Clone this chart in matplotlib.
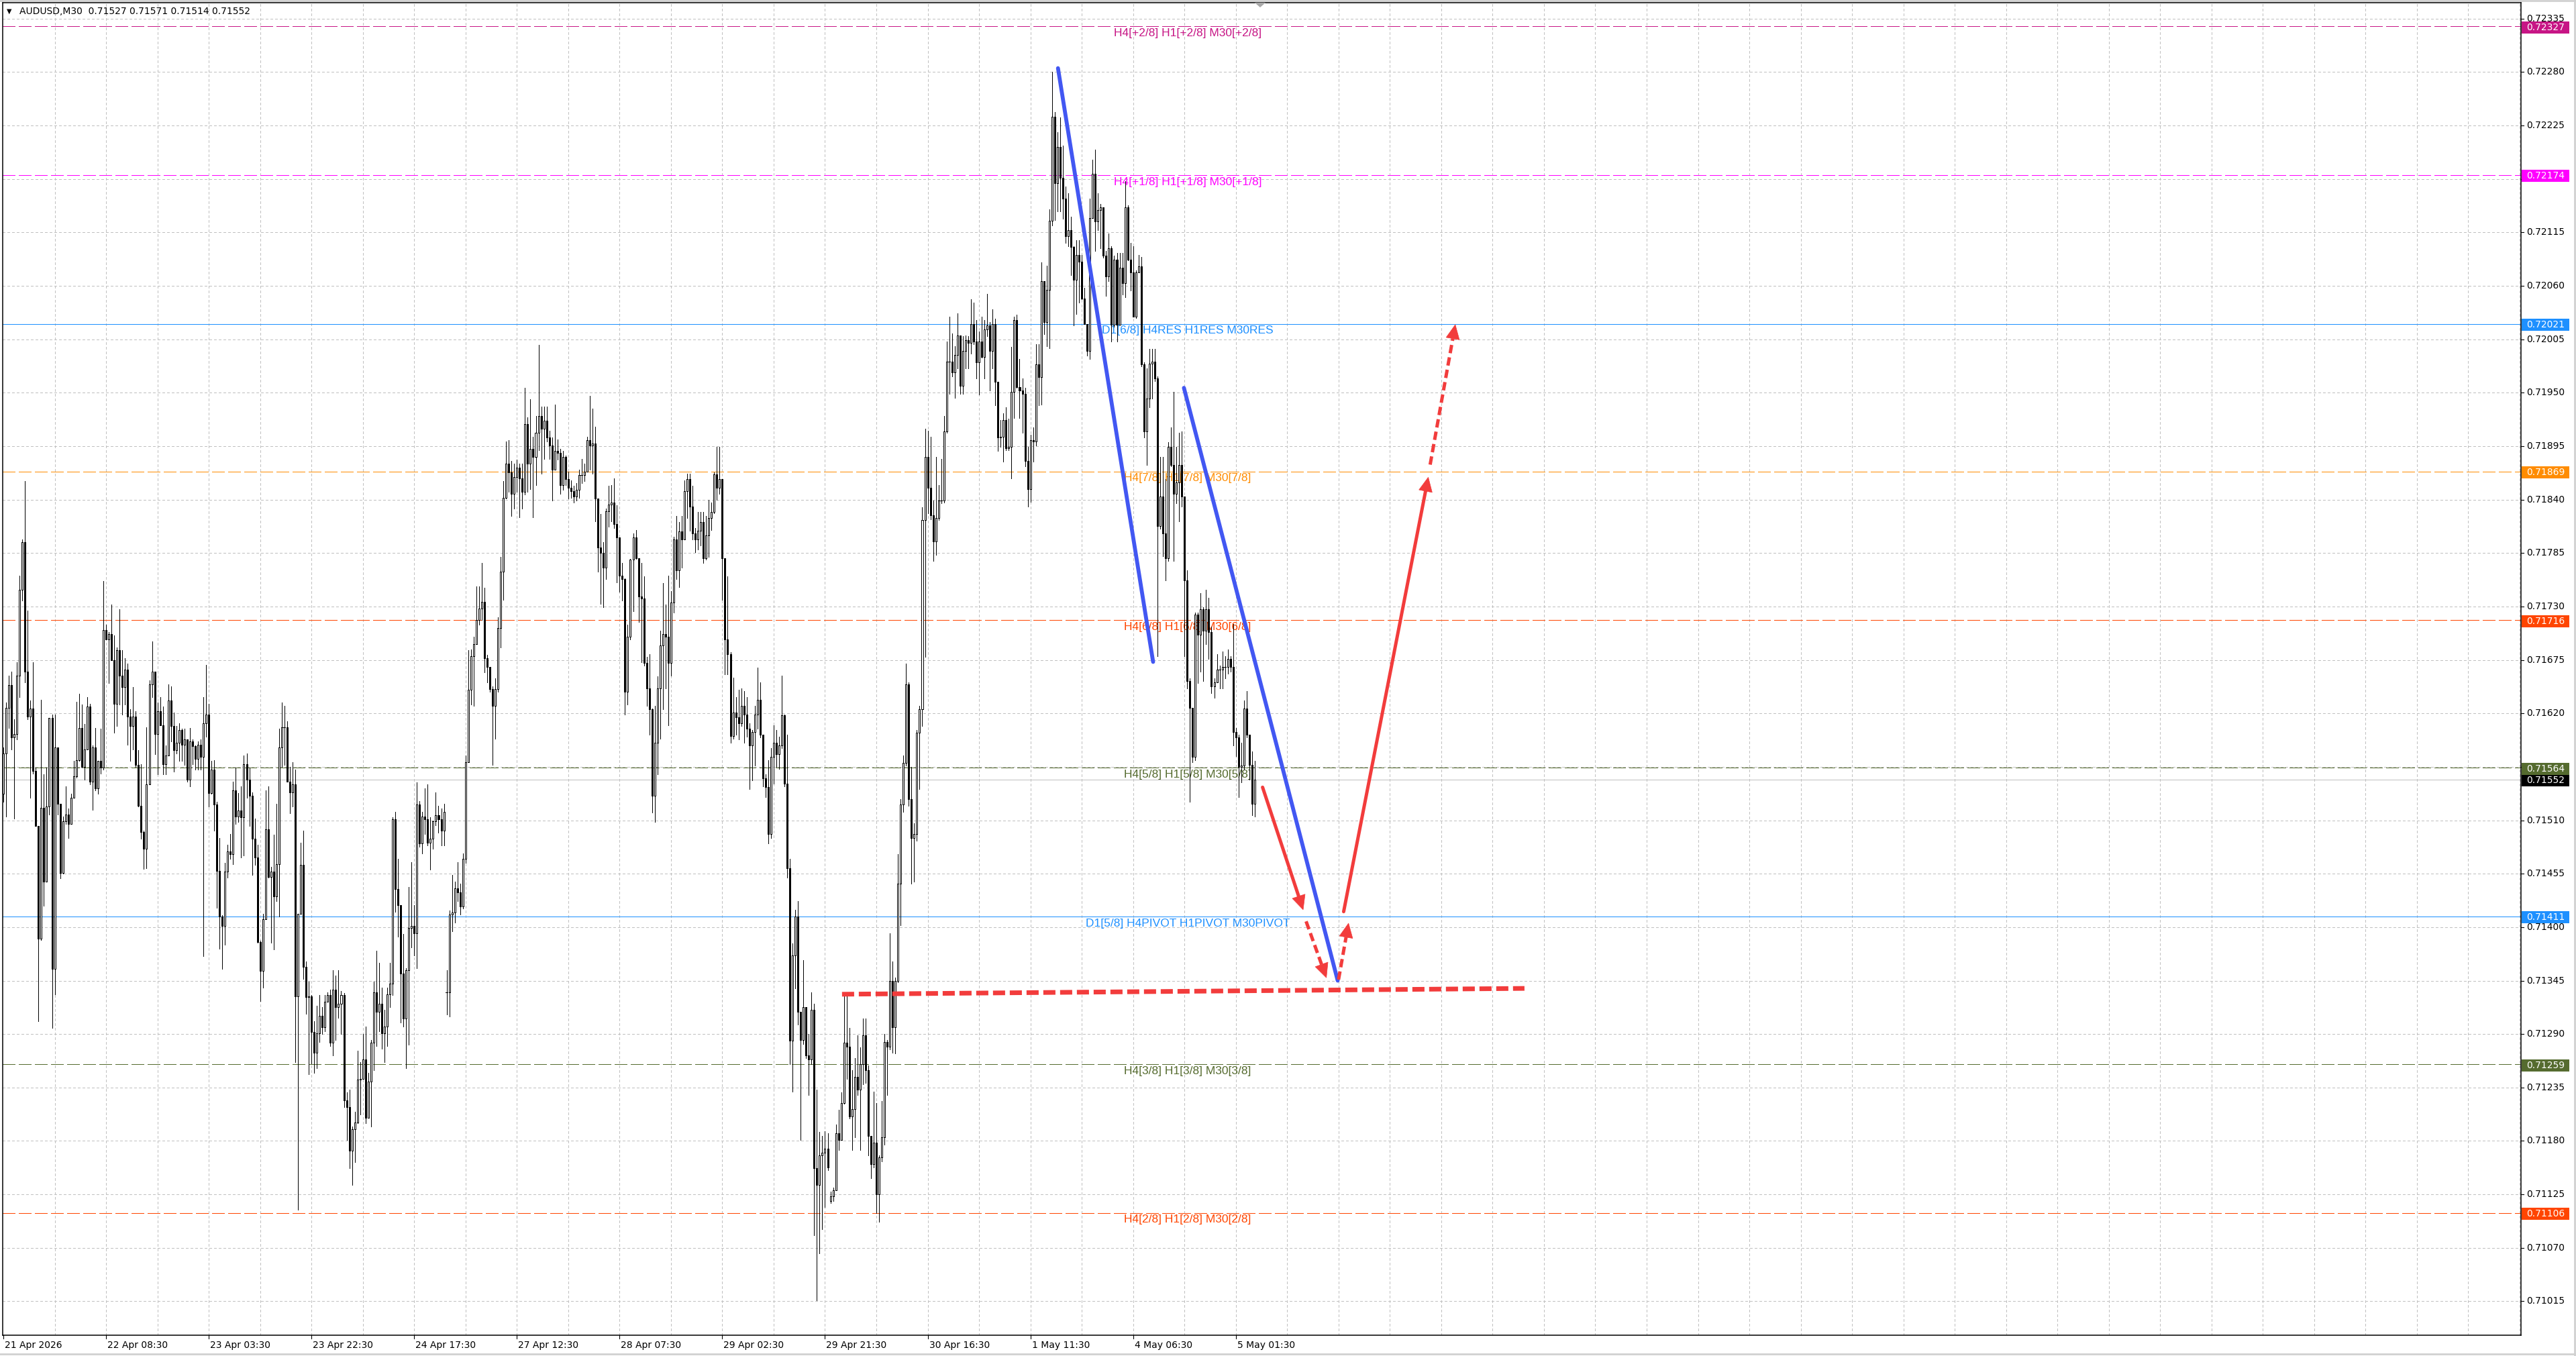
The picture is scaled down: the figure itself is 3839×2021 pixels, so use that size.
import numpy as np
import matplotlib
matplotlib.use("Agg")
import matplotlib.pyplot as plt
from matplotlib.patches import Rectangle, Polygon
from matplotlib.lines import Line2D
from matplotlib.transforms import blended_transform_factory, offset_copy

plt.rcParams['font.family'] = ['DejaVu Sans']
plt.rcParams['lines.scale_dashes'] = False

# AUDUSD M30, prices in points above 0.70000 (1 point = 0.00001)
close_pts = [
    1579, 1626, 1649, 1595, 1599, 1659, 1747, 1796, 1663, 1617,
    1625, 1561, 1504, 1388, 1523, 1447, 1524, 1615, 1357, 1585,
    1527, 1456, 1509, 1516, 1506, 1533, 1555, 1572, 1605, 1565,
    1583, 1627, 1550, 1585, 1543, 1571, 1564, 1706, 1696, 1702,
    1675, 1630, 1685, 1659, 1647, 1665, 1617, 1607, 1617, 1567,
    1525, 1498, 1481, 1547, 1650, 1663, 1599, 1622, 1608, 1568,
    1577, 1633, 1607, 1582, 1590, 1603, 1588,
    1593, 1552, 1591, 1586, 1573, 1588, 1575, 1610, 1619, 1538, 1562,
    1526, 1458, 1411, 1401, 1457, 1478, 1475, 1541, 1514, 1520,
    1513, 1568, 1552, 1535, 1491, 1472, 1385, 1355, 1408, 1501,
    1452, 1457, 1432, 1465, 1585, 1606, 1606, 1550, 1539, 1547,
    1329, 1414, 1464, 1359, 1328, 1329, 1292, 1271, 1291, 1309,
    1297, 1323, 1330, 1281, 1336, 1318, 1321, 1330, 1222, 1215,
    1170, 1192, 1199, 1243, 1244, 1264, 1204, 1241, 1281, 1333,
    1313, 1321, 1291, 1298, 1331, 1342, 1511, 1439, 1423, 1352,
    1306, 1356, 1399, 1401, 1394, 1526, 1486, 1514, 1511, 1487,
    1491, 1509, 1515, 1511, 1499, 1519, 1333, 1413, 1415, 1440,
    1436, 1421, 1470, 1570, 1644, 1679, 1691, 1716, 1728, 1735,
    1677, 1668, 1645, 1628, 1645, 1708, 1766, 1842, 1877, 1868,
    1846, 1863, 1873, 1862, 1848, 1918, 1877, 1892, 1884, 1909,
    1926, 1913, 1921, 1904, 1896, 1871, 1890, 1888, 1855, 1884,
    1861, 1852, 1849, 1843, 1850, 1865, 1865, 1869, 1901, 1896,
    1898, 1841, 1791, 1785, 1770, 1828, 1835, 1837, 1815, 1801,
    1762, 1758, 1642, 1699, 1778, 1801, 1780, 1740, 1738, 1672,
    1646, 1624, 1535, 1590, 1646, 1690, 1702, 1699, 1672, 1734,
    1799, 1767, 1807, 1799, 1849, 1861, 1833, 1805, 1799, 1808,
    1817, 1780, 1803, 1821,
    1827, 1866, 1852, 1861, 1780, 1696, 1681, 1597, 1621, 1616,
    1610, 1628, 1619, 1604, 1587, 1601, 1619, 1634, 1598, 1553,
    1544, 1496, 1575, 1590, 1578, 1587, 1618, 1548, 1461, 1283,
    1371, 1411, 1313, 1284, 1318, 1268, 1264, 1315, 1152, 1135,
    1165, 1168, 1172, 1153, 1123, 1129, 1188, 1181, 1219, 1281,
    1277, 1205, 1213, 1246, 1233, 1259, 1289, 1253, 1185, 1156,
    1178, 1125, 1163, 1184, 1282, 1277, 1345, 1297, 1345, 1445,
    1526, 1569, 1650, 1532, 1492, 1496, 1600, 1624, 1819, 1884,
    1852, 1824, 1797, 1821, 1839, 1839, 1910, 1982, 1982, 1971,
    1989, 2009, 1957, 1993, 2004, 2001, 2021, 2003, 1981, 2003,
    1987, 2015, 2019, 1993, 2021, 1961, 1904, 1905, 1922, 1893,
    1894, 1951, 2025, 1956, 1952, 1949, 1880, 1851, 1901, 1900,
    1979, 1966, 2065, 2023, 2056, 2127, 2234, 2166, 2203, 2171,
    2150, 2111, 2117, 2100, 2066, 2092, 2085, 2047, 2021, 1993,
    2130, 2175, 2126, 2138, 2141, 2091, 2070, 2099, 2020, 2087,
    2020, 2079, 2063, 2141, 2087, 2074, 2028, 2074, 2080, 1979,
    1910, 1944,
    1980, 1982, 1965, 1813, 1843, 1805, 1780, 1894, 1876, 1846,
    1858, 1876, 1843, 1757, 1653, 1626, 1575, 1722, 1701, 1727,
    1705, 1727, 1704, 1648, 1652, 1665, 1665, 1668, 1668, 1676,
    1668, 1601, 1595, 1565, 1566, 1625, 1598, 1567, 1527, 1552,
]
high_pts = [
    1585, 1631, 1659, 1663, 1614, 1673, 1762, 1799, 1859, 1726,
    1633, 1673, 1564, 1501, 1634, 1557, 1564, 1615, 1619, 1619,
    1584, 1520, 1514, 1545, 1522, 1537, 1571, 1632, 1640, 1629,
    1609, 1637, 1630, 1587, 1605, 1571, 1604, 1756, 1711, 1704,
    1732, 1700, 1688, 1727, 1685, 1677, 1671, 1624, 1647, 1622,
    1582, 1568, 1499, 1606, 1654, 1694, 1663, 1631, 1637, 1627,
    1587, 1650, 1648, 1621, 1607, 1610, 1604,
    1604, 1579, 1605, 1593, 1587, 1591, 1593, 1637, 1670, 1630, 1571,
    1572, 1529, 1492, 1412, 1466, 1485, 1496, 1550, 1564, 1538,
    1545, 1577, 1579, 1564, 1539, 1512, 1485, 1386, 1414, 1541,
    1545, 1462, 1495, 1527, 1604, 1631, 1628, 1612, 1565, 1570,
    1562, 1414, 1487, 1499, 1365, 1344, 1330, 1303, 1319, 1330,
    1318, 1330, 1333, 1336, 1356, 1350, 1356, 1334, 1332, 1230,
    1233, 1195, 1210, 1273, 1261, 1290, 1298, 1250, 1284, 1344,
    1376, 1363, 1338, 1315, 1338, 1363, 1513, 1519, 1470, 1421,
    1393, 1358, 1441, 1467, 1423, 1549, 1530, 1519, 1543, 1547,
    1513, 1510, 1539, 1525, 1522, 1527, 1356, 1417, 1454, 1447,
    1467, 1445, 1476, 1577, 1685, 1686, 1699, 1751, 1751, 1775,
    1749, 1680, 1668, 1648, 1656, 1719, 1781, 1859, 1900, 1901,
    1880, 1877, 1881, 1877, 1877, 1955, 1925, 1943, 1905, 1926,
    1999, 1936, 1936, 1936, 1911, 1904, 1938, 1902, 1892, 1890,
    1885, 1869, 1860, 1854, 1857, 1871, 1882, 1877, 1905, 1947,
    1934, 1915, 1841, 1825, 1796, 1831, 1854, 1855, 1862, 1834,
    1800, 1775, 1759, 1711, 1779, 1805, 1809, 1778, 1775, 1761,
    1678, 1681, 1625, 1628, 1658, 1705, 1754, 1732, 1762, 1746,
    1802, 1823, 1817, 1823, 1860, 1867, 1867, 1854, 1811, 1827,
    1827, 1827, 1823, 1840,
    1837, 1868, 1894, 1894, 1860, 1778, 1761, 1683, 1657, 1637,
    1644, 1646, 1643, 1637, 1610, 1603, 1628, 1667, 1652, 1597,
    1557, 1572, 1584, 1608, 1603, 1596, 1659, 1619, 1598, 1470,
    1383, 1418, 1427, 1312, 1366, 1318, 1290, 1333, 1321, 1233,
    1189, 1185, 1190, 1188, 1128, 1132, 1197, 1212, 1230, 1330,
    1330, 1296, 1253, 1265, 1289, 1276, 1306, 1306, 1258, 1185,
    1231, 1219, 1165, 1221, 1290, 1284, 1394, 1365, 1348, 1475,
    1532, 1577, 1671, 1652, 1565, 1507, 1603, 1628, 1832, 1913,
    1911, 1905, 1839, 1884, 1855, 1882, 1926, 2003, 2028, 2011,
    1998, 2032, 1995, 2008, 2009, 2008, 2046, 2043, 2025, 2013,
    2028, 2025, 2052, 2023, 2036, 2026, 1961, 1922, 1929, 1935,
    1923, 1997, 2028, 2030, 1985, 1965, 1955, 1894, 1907, 1914,
    2000, 2000, 2084, 2065, 2081, 2139, 2280, 2239, 2218, 2233,
    2204, 2162, 2155, 2131, 2101, 2107, 2107, 2092, 2058, 2021,
    2150, 2190, 2200, 2155, 2144, 2139, 2096, 2114, 2101, 2091,
    2094, 2094, 2094, 2168, 2143, 2104, 2101, 2076, 2092, 2090,
    1981, 1975,
    1995, 1995, 1995, 1967, 1884, 1884, 1861, 1899, 1914, 1951,
    1894, 1909, 1910, 1843, 1767, 1656, 1625, 1724, 1724, 1744,
    1729, 1747, 1739, 1709, 1656, 1681, 1669, 1684, 1679, 1686,
    1679, 1712, 1605, 1598, 1590, 1633, 1643, 1598, 1581, 1571,
]
low_pts = [
    1529, 1514, 1605, 1583, 1512, 1593, 1637, 1736, 1652, 1614,
    1533, 1558, 1504, 1303, 1387, 1422, 1449, 1516, 1296, 1331,
    1516, 1450, 1455, 1506, 1492, 1506, 1533, 1554, 1571, 1564,
    1552, 1583, 1547, 1521, 1541, 1537, 1558, 1562, 1696, 1651,
    1675, 1600, 1607, 1629, 1619, 1629, 1588, 1571, 1583, 1565,
    1524, 1491, 1460, 1461, 1552, 1637, 1578, 1557, 1608, 1557,
    1557, 1577, 1591, 1560, 1579, 1571, 1571,
    1567, 1550, 1545, 1568, 1562, 1562, 1562, 1370, 1596, 1524, 1537,
    1499, 1420, 1378, 1357, 1382, 1451, 1470, 1465, 1506, 1508,
    1472, 1474, 1533, 1504, 1454, 1464, 1384, 1324, 1338, 1409,
    1451, 1384, 1377, 1427, 1411, 1565, 1567, 1550, 1517, 1524,
    1261, 1109, 1416, 1347, 1311, 1249, 1260, 1250, 1255, 1282,
    1290, 1293, 1327, 1278, 1268, 1284, 1307, 1290, 1215, 1181,
    1152, 1135, 1158, 1198, 1207, 1244, 1198, 1204, 1195, 1253,
    1278, 1293, 1275, 1261, 1278, 1318, 1330, 1416, 1390, 1302,
    1298, 1255, 1279, 1379, 1371, 1358, 1483, 1476, 1496, 1484,
    1459, 1481, 1505, 1497, 1484, 1484, 1310, 1308, 1396, 1405,
    1427, 1413, 1419, 1466, 1570, 1629, 1628, 1691, 1711, 1716,
    1662, 1652, 1642, 1567, 1594, 1642, 1688, 1737, 1841, 1848,
    1823, 1831, 1848, 1822, 1831, 1845, 1848, 1851, 1822, 1855,
    1891, 1867, 1882, 1900, 1882, 1839, 1871, 1881, 1846, 1850,
    1855, 1841, 1842, 1837, 1839, 1842, 1857, 1859, 1869, 1871,
    1867, 1818, 1766, 1733, 1729, 1758, 1812, 1818, 1811, 1755,
    1745, 1736, 1619, 1629, 1696, 1725, 1779, 1714, 1673, 1669,
    1628, 1598, 1518, 1508, 1557, 1594, 1624, 1646, 1608, 1659,
    1724, 1758, 1750, 1770, 1799, 1821, 1808, 1799, 1786, 1789,
    1793, 1775, 1778, 1781,
    1809, 1826, 1840, 1846, 1737, 1660, 1660, 1590, 1594, 1598,
    1593, 1607, 1590, 1596, 1542, 1551, 1566, 1604, 1595, 1545,
    1534, 1486, 1492, 1548, 1565, 1563, 1584, 1545, 1451, 1259,
    1231, 1337, 1300, 1181, 1280, 1265, 1227, 1259, 1083, 1016,
    1064, 1089, 1112, 1150, 1116, 1118, 1129, 1171, 1181, 1218,
    1244, 1203, 1171, 1184, 1227, 1171, 1238, 1240, 1165, 1142,
    1153, 1106, 1097, 1159, 1176, 1227, 1274, 1271, 1270, 1343,
    1402, 1519, 1566, 1525, 1445, 1447, 1489, 1542, 1607, 1678,
    1826, 1820, 1777, 1783, 1819, 1836, 1837, 1909, 1949, 1967,
    1945, 1975, 1949, 1949, 1975, 1975, 1990, 2000, 1965, 1948,
    1986, 1965, 2008, 1952, 1975, 1937, 1890, 1894, 1879, 1891,
    1891, 1862, 1924, 1955, 1924, 1909, 1874, 1833, 1838, 1879,
    1896, 1937, 1938, 2010, 1998, 1996, 2122, 2128, 2137, 2137,
    2129, 2104, 2101, 2071, 2019, 2031, 2043, 2046, 2021, 1988,
    1985, 2132, 2096, 2117, 2099, 2089, 2050, 2065, 2003, 2018,
    2003, 2020, 2051, 2048, 2086, 2055, 2028, 2027, 2074, 1977,
    1904, 1876,
    1935, 1944, 1962, 1679, 1810, 1782, 1757, 1777, 1874, 1777,
    1836, 1818, 1833, 1679, 1646, 1529, 1570, 1572, 1651, 1663,
    1653, 1691, 1676, 1641, 1636, 1661, 1646, 1646, 1656, 1661,
    1663, 1587, 1576, 1534, 1549, 1562, 1595, 1552, 1515, 1514,
]
# bars whose open is not the previous close (first bar, weekend gap, ...)
open_gaps = {0: 1537, 164: 1333, 306: 1118}

time_labels = ['21 Apr 2026', '22 Apr 08:30', '23 Apr 03:30', '23 Apr 22:30',
               '24 Apr 17:30', '27 Apr 12:30', '28 Apr 07:30', '29 Apr 02:30',
               '29 Apr 21:30', '30 Apr 16:30', '1 May 11:30', '4 May 06:30',
               '5 May 01:30']
time_label_step = 38

price_ticks = [0.71015 + 0.00055 * k for k in range(25)]

level_prices = [0.72327, 0.72174, 0.72021, 0.71869, 0.71716, 0.71564,
                0.71411, 0.71259, 0.71106]
level_names = ['H4[+2/8] H1[+2/8] M30[+2/8]', 'H4[+1/8] H1[+1/8] M30[+1/8]',
               'D1[6/8] H4RES H1RES M30RES', 'H4[7/8] H1[7/8] M30[7/8]',
               'H4[6/8] H1[6/8] M30[6/8]', 'H4[5/8] H1[5/8] M30[5/8]',
               'D1[5/8] H4PIVOT H1PIVOT M30PIVOT', 'H4[3/8] H1[3/8] M30[3/8]',
               'H4[2/8] H1[2/8] M30[2/8]']
level_colors = ['#C71585', '#FF00FF', '#1E90FF', '#FF8C00', '#FF4500',
                '#556B2F', '#1E90FF', '#556B2F', '#FF4500']
level_solid = [False, False, True, False, False, False, True, False, False]
last_price = 0.71552

# drawn objects: (bar, price) pairs
blue_trends = [((390.2, 0.72284), (425.4, 0.71673)),
               ((436.8, 0.71955), (493.7, 0.71345))]
red_arrows = [((465.9, 0.71544), (480.9, 0.71418), False),
              ((482.0, 0.71406), (489.5, 0.71348), True),
              ((494.0, 0.71346), (497.7, 0.71404), True),
              ((495.9, 0.71416), (527.2, 0.71863), False),
              ((527.9, 0.71876), (537.2, 0.72020), True)]
red_support = ((310.3, 0.71331), (562.8, 0.71337))

header = 'AUDUSD,M30  0.71527 0.71571 0.71514 0.71552'

# ---------------------------------------------------------------
W, H, DPI = 3839, 2021, 100
PL, PR, PT, PB = 4, 3757, 4, 1990   # plot box in pixels
PX = 0.72                           # one pixel in points


def fx(px):
    return px / W


def fy(py):
    return 1 - py / H


fig = plt.figure(figsize=(W / DPI, H / DPI), dpi=DPI, facecolor='white')
ax = fig.add_axes([fx(PL), fy(PB), (PR - PL) / W, (PB - PT) / H])
ax.set_xlim(-0.25, 931.5)
ax.set_ylim(0.709801, 0.723514)
ax.set_xticks([])
ax.set_yticks([])
for s in ax.spines.values():
    s.set_linewidth(1.1)
    s.set_color('black')

GRID = '#C0C0C0'
for xg in range(19, 932, 19):
    ax.axvline(xg, color=GRID, lw=PX, dashes=(2.2, 2.2), zorder=0, antialiased=False)
for p in price_ticks:
    ax.axhline(p, color=GRID, lw=PX, dashes=(2.2, 2.2), zorder=0, antialiased=False)

# levels
ax.axhline(last_price, color='#C0C0C0', lw=PX, zorder=1, antialiased=False)
for p, name, col, solid in zip(level_prices, level_names, level_colors, level_solid):
    if solid:
        ax.axhline(p, color=col, lw=PX, zorder=2, antialiased=False)
    else:
        ax.axhline(p, color=col, lw=PX, dashes=(13, 4.3), zorder=2, antialiased=False)
    ax.annotate(name, xy=(438.2, p), xytext=(0, -2), textcoords='offset points',
                ha='center', va='top', color=col, fontsize=12.5,
                family=['Liberation Sans', 'DejaVu Sans'], zorder=2)

# candles
n = len(close_pts)
x = np.arange(n)
c = 0.70000 + np.array(close_pts) * 1e-5
o = np.empty(n)
o[1:] = c[:-1]
for k, v in open_gaps.items():
    o[k] = 0.70000 + v * 1e-5
hi = np.maximum(0.70000 + np.array(high_pts) * 1e-5, np.maximum(o, c))
lo = np.minimum(0.70000 + np.array(low_pts) * 1e-5, np.minimum(o, c))

ax.vlines(x, lo, hi, color='black', lw=PX, zorder=3, antialiased=False)
up = c > o
dn = c < o
eq = c == o
ax.bar(x[up], (c - o)[up], bottom=o[up], width=0.5, facecolor='white',
       edgecolor='black', linewidth=PX, zorder=4, antialiased=False)
ax.bar(x[dn], (o - c)[dn], bottom=c[dn], width=0.5, facecolor='black',
       edgecolor='black', linewidth=PX, zorder=4, antialiased=False)
ax.hlines(c[eq], x[eq] - 0.37, x[eq] + 0.37, color='black', lw=PX, zorder=4,
          antialiased=False)

# trend lines and arrows
BLUE = '#4257F2'
RED = '#F23C3C'
for (x0, y0), (x1, y1) in blue_trends:
    ax.plot([x0, x1], [y0, y1], color=BLUE, lw=4.2, solid_capstyle='round', zorder=6)

(sx0, sy0), (sx1, sy1) = red_support
ax.plot([sx0, sx1], [sy0, sy1], color=RED, lw=5, dashes=(13, 5),
        dash_capstyle='butt', zorder=6)

fig.canvas.draw()
to_px = ax.transData
to_data = ax.transData.inverted()
for (x0, y0), (x1, y1), dashed in red_arrows:
    p0 = np.array(to_px.transform((x0, y0)))
    p1 = np.array(to_px.transform((x1, y1)))
    u = (p1 - p0) / np.hypot(*(p1 - p0))
    perp = np.array([-u[1], u[0]])
    base = p1 - u * 21
    bx, by = to_data.transform(base)
    if dashed:
        ax.plot([x0, bx], [y0, by], color=RED, lw=3.6, dashes=(9, 4.5),
                dash_capstyle='butt', zorder=6)
    else:
        ax.plot([x0, bx], [y0, by], color=RED, lw=3.6, solid_capstyle='round', zorder=6)
    tri = [p1, base + perp * 10, base - perp * 10]
    ax.add_patch(Polygon(to_data.transform(tri), closed=True, facecolor=RED,
                         edgecolor=RED, lw=0.5, zorder=6))

# right price scale
yblend = blended_transform_factory(fig.transFigure, ax.transData)
for p in price_ticks:
    fig.text(fx(3765), p, f'{p:.5f}', transform=yblend, va='center', ha='left',
             fontsize=10, color='black')
    fig.add_artist(Line2D([fx(PR), fx(PR + 4)], [p, p], transform=yblend,
                          color='black', lw=0.8))

box_h = 18 / 144826
box_items = list(zip(level_prices, level_colors))
box_items.insert(6, (last_price, 'black'))
order = [i for i in range(len(box_items)) if box_items[i][1] == 'black'] + \
        [i for i in range(len(box_items)) if box_items[i][1] != 'black']
for i in order:
    p, col = box_items[i]
    fig.add_artist(Rectangle((fx(3758), p - box_h / 2 - 1.5 / 144826),
                             (3829 - 3758) / W, box_h, transform=yblend,
                             facecolor=col, edgecolor='none', zorder=10))
    fig.text(fx(3765), p - 1.5 / 144826, f'{p:.5f}', transform=yblend, va='center',
             ha='left', fontsize=10, color='white', zorder=11)

# time scale
xblend = blended_transform_factory(ax.transData, fig.transFigure)
for i, lab in enumerate(time_labels):
    xb = i * time_label_step
    fig.add_artist(Line2D([xb, xb], [fy(PB), fy(PB + 5)], transform=xblend,
                          color='black', lw=0.8))
    fig.text(xb, fy(2004.5), lab, transform=offset_copy(xblend, fig=fig, x=2, y=0, units='dots'),
             va='center', ha='left', fontsize=10, color='black')

# header and chart-shift marker
fig.text(fx(10), fy(17), '\u25BC', va='center', ha='left', fontsize=7, color='black')
fig.text(fx(29), fy(17), header, va='center', ha='left', fontsize=10, color='black')
fig.add_artist(Polygon([(fx(1870), fy(4)), (fx(1886), fy(4)), (fx(1878), fy(11))],
                       closed=True, facecolor='#A8A8A8', edgecolor='none', zorder=12))

# window borders
for seg in [([0, 1], [fy(1), fy(1)]), ([fx(3837), fx(3837)], [0, 1]),
            ([0, 1], [fy(2018), fy(2018)])]:
    fig.add_artist(Line2D(seg[0], seg[1], color='#D0D0D0', lw=2))

fig.savefig('out.png', dpi=DPI, facecolor='white')
